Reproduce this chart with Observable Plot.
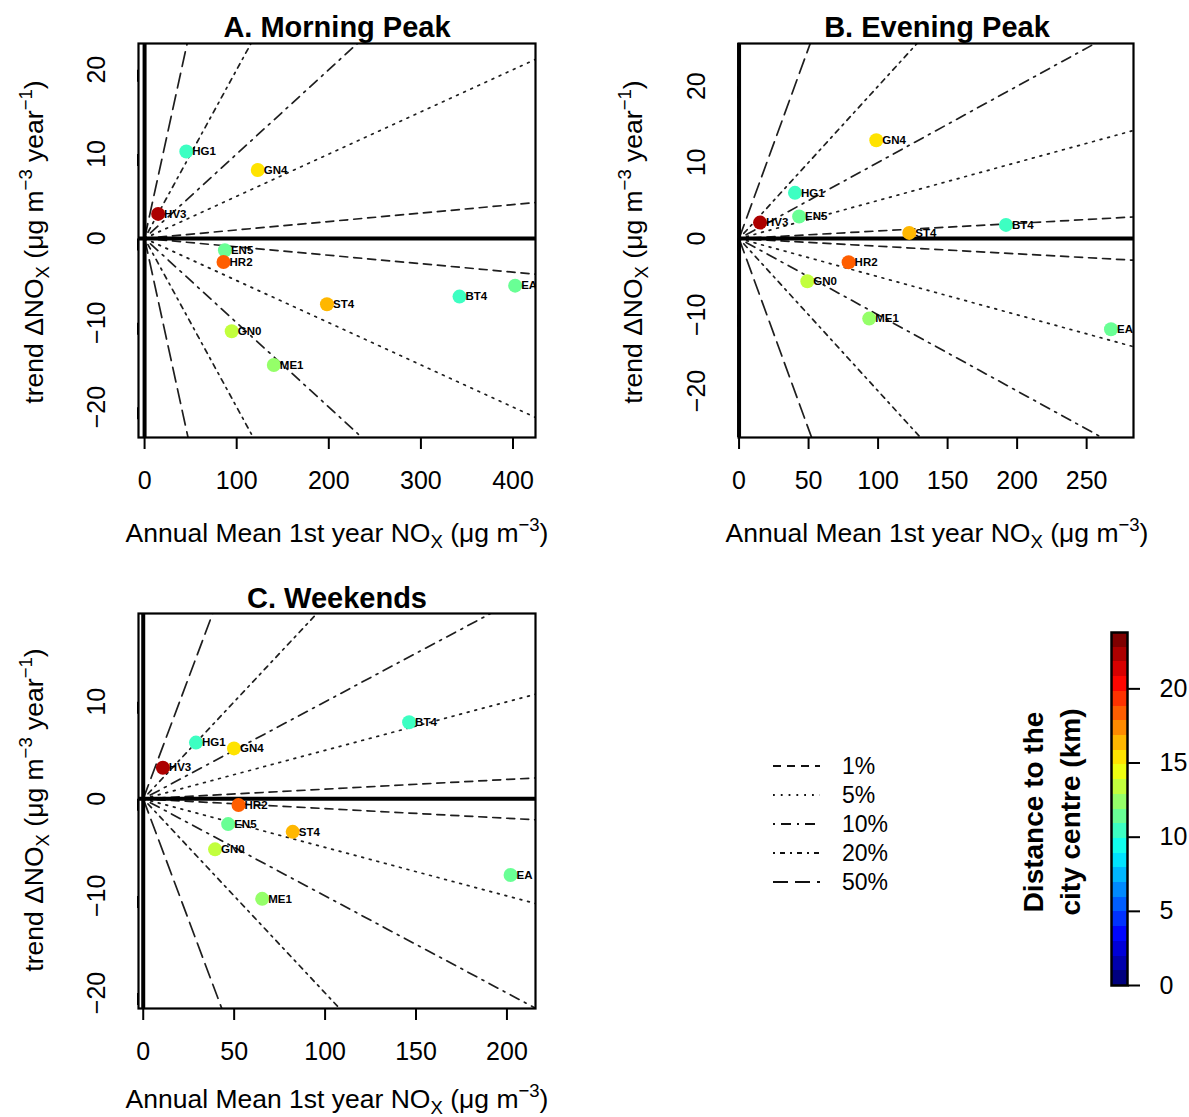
<!DOCTYPE html>
<html>
<head>
<meta charset="utf-8">
<script src="https://cdn.jsdelivr.net/npm/d3@7"></script>
<script src="https://cdn.jsdelivr.net/npm/@observablehq/plot@0.6"></script>
<style>
  body { margin: 0; background: #fff; }
  #fig { position: relative; width: 1189px; height: 1117px; overflow: hidden;
         font-family: "Liberation Sans", Arial, Helvetica, sans-serif; color: #000; }
  .abs { position: absolute; }
  .title { font-weight: bold; font-size: 29px; white-space: nowrap; line-height: 1;
           transform: translate(-50%, -50%); }
  .xlab { font-size: 26.5px; white-space: nowrap; line-height: 1; transform: translate(-50%, -50%); }
  .ylab { font-size: 26.5px; white-space: nowrap; line-height: 1; transform: translate(-50%, -50%) rotate(-90deg); }
  .cbtitle { font-weight: bold; font-size: 28px; white-space: nowrap; line-height: 37px; text-align: center;
             transform: translate(-50%, -50%) rotate(-90deg); }
  .sb { font-size: 0.7em; position: relative; top: 0.3em; }
  .sp { font-size: 0.7em; position: relative; top: -0.6em; }
</style>
</head>
<body>
<div id="fig"></div>
<script>
// Monitoring stations and their distance to the city centre (km)
const stations   = ["HG1", "GN4", "HV3", "EN5", "HR2", "ST4", "BT4", "EA", "GN0", "ME1"];
const distanceKm = [10.4, 15.3, 22.6, 11.6, 18.5, 16.5, 10.4, 11.6, 13.6, 12.6];

// Annual mean of the first year (x) and trend (y), per period
const morningMean  = [45.3, 122.9, 14.7, 87.2, 85.7, 198.0, 341.9, 402.3, 94.6, 140.3];
const morningTrend = [10.3, 8.1, 2.9, -1.4, -2.8, -7.8, -6.9, -5.6, -11.0, -15.0];
const eveningMean  = [40.2, 98.7, 15.1, 43.2, 78.8, 122.4, 192.0, 267.5, 49.1, 93.6];
const eveningTrend = [6.0, 12.9, 2.1, 2.9, -3.1, 0.75, 1.8, -11.9, -5.6, -10.5];
const weekendMean  = [29.0, 49.9, 10.8, 46.7, 52.4, 82.2, 146.2, 202.0, 39.5, 65.4];
const weekendTrend = [5.8, 5.2, 3.2, -2.6, -0.63, -3.4, 7.9, -7.85, -5.2, -10.3];

// Relative-change guide lines (% of the first-year mean per year)
const guidePercents = [1, 5, 10, 20, 50];
const guideLabels   = ["1%", "5%", "10%", "20%", "50%"];
const guideDash     = ["8,6", "1.8,6", "2,6,10,6", "2,5,5,5", "15,7"];

// Colour bar
const distanceMax   = 23.8;
const distanceTicks = [0, 5, 10, 15, 20];
const nColours      = 24;
const jetStops = ["#00007F", "#0000FF", "#007FFF", "#00FFFF", "#7FFF7F", "#FFFF00", "#FF7F00", "#FF0000", "#7F0000"];
const jetColours = d3.quantize(d3.piecewise(d3.interpolateRgb, jetStops), nColours);
const thresholds = d3.range(1, nColours).map(i => i * distanceMax / nColours);
const colourScale = { type: "threshold", domain: thresholds, range: jetColours };

const fig = document.getElementById("fig");
const FONT = '"Liberation Sans", Arial, Helvetica, sans-serif';

function place(node, left, top) {
  node.style.position = "absolute";
  node.style.left = left + "px";
  node.style.top = top + "px";
  fig.appendChild(node);
}
function label(cls, html, cx, cy) {
  const d = document.createElement("div");
  d.className = "abs " + cls;
  d.innerHTML = html;
  d.style.left = cx + "px";
  d.style.top = cy + "px";
  fig.appendChild(d);
}

const panels = [
  { title: "A. Morning Peak", mean: morningMean, trend: morningTrend, left: 0, top: 0,
    xDomain: [-6.6, 424.4], yDomain: [-23.6, 23.1], xTicks: [0, 100, 200, 300, 400], yTicks: [-20, -10, 0, 10, 20],
    titleAt: [337, 27], xlabAt: [337, 533], ylabAt: [34, 242] },
  { title: "B. Evening Peak", mean: eveningMean, trend: eveningTrend, left: 600, top: 0,
    xDomain: [-0.4, 283.7], yDomain: [-26.1, 25.6], xTicks: [0, 50, 100, 150, 200, 250], yTicks: [-20, -10, 0, 10, 20],
    titleAt: [937, 27], xlabAt: [937, 533], ylabAt: [633, 242] },
  { title: "C. Weekends", mean: weekendMean, trend: weekendTrend, left: 0, top: 570,
    xDomain: [-2.6, 215.7], yDomain: [-21.6, 19.1], xTicks: [0, 50, 100, 150, 200], yTicks: [-20, -10, 0, 10],
    titleAt: [337, 598], xlabAt: [337, 1099], ylabAt: [34, 810] }
];

const xTitle = 'Annual Mean 1st year NO<span class="sb">X</span> (μg m<span class="sp">−3</span>)';
const yTitle = 'trend ΔNO<span class="sb">X</span> (μg m<span class="sp">−3</span> year<span class="sp">−1</span>)';

for (const cfg of panels) {
  const data = stations.map((s, i) => ({ station: s, dist: distanceKm[i], mean: cfg.mean[i], trend: cfg.trend[i] }));
  const xEnd = cfg.xDomain[1];
  const marks = [];
  guidePercents.forEach((p, k) => {
    for (const sign of [1, -1]) {
      marks.push(Plot.line([[0, 0], [xEnd, sign * p / 100 * xEnd]], {
        x: d => d[0], y: d => d[1], stroke: "#1e1e1e", strokeWidth: 1.7,
        strokeDasharray: guideDash[k], clip: true
      }));
    }
  });
  marks.push(
    Plot.ruleY([0], { stroke: "#000", strokeWidth: 4 }),
    Plot.ruleX([0], { stroke: "#000", strokeWidth: 4 }),
    Plot.dot(data, { x: "mean", y: "trend", r: 7, fill: "dist", stroke: "none", clip: true }),
    Plot.text(data, { x: "mean", y: "trend", text: "station", textAnchor: "start", dx: 6,
                      fontSize: 11.5, fontWeight: "bold", fill: "#000", clip: true }),
    Plot.frame({ stroke: "#000", strokeWidth: 2.2 }),
    Plot.axisX({ ticks: cfg.xTicks, tickSize: 12, tickPadding: 22, fontSize: 25, strokeWidth: 2,
                 label: null, tickFormat: d => String(d) }),
    Plot.axisY({ ticks: cfg.yTicks, tickSize: 12, tickPadding: 30, fontSize: 25, strokeWidth: 2,
                 rotate: -90, textAnchor: "middle", label: null })
  );
  const chart = Plot.plot({
    width: 560, height: 500,
    marginLeft: 138, marginRight: cfg.left === 600 ? 27 : 25, marginTop: 43,
    marginBottom: cfg.top === 570 ? 62 : 63,
    x: { domain: cfg.xDomain },
    y: { domain: cfg.yDomain },
    color: colourScale,
    style: { fontFamily: FONT, fontSize: "25px", background: "transparent", color: "#000", overflow: "visible" },
    marks
  });
  place(chart, cfg.left, cfg.top);
  label("title", cfg.title, cfg.titleAt[0], cfg.titleAt[1]);
  label("xlab", xTitle, cfg.xlabAt[0], cfg.xlabAt[1]);
  label("ylab", yTitle, cfg.ylabAt[0], cfg.ylabAt[1]);
}

// Line-style legend for the guide lines
const legend = d3.create("svg").attr("width", 150).attr("height", 150)
  .style("overflow", "visible").style("font-family", FONT);
guideLabels.forEach((lab, i) => {
  const y = 16 + i * 29;
  legend.append("line").attr("x1", 13).attr("x2", 60).attr("y1", y).attr("y2", y)
    .attr("stroke", "#111").attr("stroke-width", 1.8).attr("stroke-dasharray", guideDash[i]);
  legend.append("text").attr("x", 82).attr("y", y).attr("dy", "0.35em")
    .attr("font-size", 23).attr("fill", "#000").text(lab);
});
place(legend.node(), 760, 750);

// Colour bar for the distance to the city centre
const bins = d3.range(nColours).map(i => ({
  lo: i * distanceMax / nColours, hi: (i + 1) * distanceMax / nColours, mid: (i + 0.5) * distanceMax / nColours
}));
const colourBar = Plot.plot({
  width: 109, height: 400,
  marginLeft: 31, marginRight: 62, marginTop: 22, marginBottom: 25,
  x: { domain: [0, 1], axis: null },
  y: { domain: [0, distanceMax] },
  color: colourScale,
  style: { fontFamily: FONT, fontSize: "25px", background: "transparent", color: "#000", overflow: "visible" },
  marks: [
    Plot.rect(bins, { x1: 0, x2: 1, y1: "lo", y2: "hi", fill: "mid", shapeRendering: "crispEdges" }),
    Plot.frame({ stroke: "#000", strokeWidth: 2.5 }),
    Plot.axisY({ anchor: "right", ticks: distanceTicks, tickSize: 12, tickPadding: 20, fontSize: 25,
                 strokeWidth: 2, label: null, textAnchor: "start" })
  ]
});
place(colourBar, 1080, 610);
label("cbtitle", "Distance to the<br>city centre (km)", 1052, 812);
</script>
</body>
</html>
